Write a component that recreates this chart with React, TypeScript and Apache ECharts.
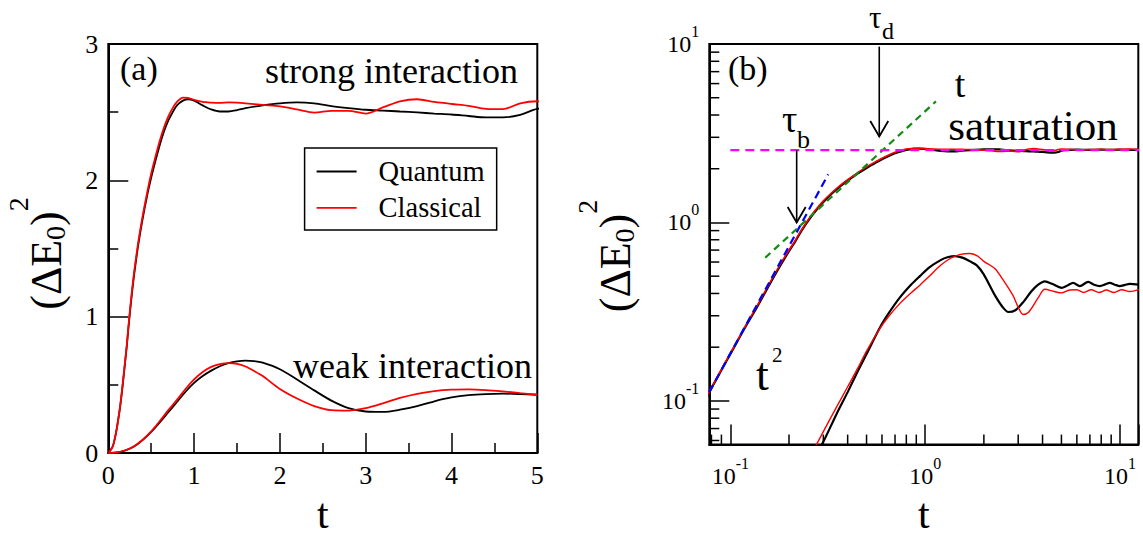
import React, { useEffect, useRef } from 'react';
import * as echarts from 'echarts';

const SERIF = 'Liberation Serif';

// ---------- strong interaction (used in (a) and (b)) ----------
const strongT = [0, 0.05, 0.078, 0.1, 0.12, 0.137, 0.16, 0.18, 0.2, 0.215,
  0.232, 0.26, 0.29, 0.312, 0.35, 0.395, 0.45, 0.5, 0.54, 0.6,
  0.65, 0.7, 0.75, 0.8, 0.87, 0.93, 1.0, 1.1, 1.2, 1.3,
  1.4, 1.5, 1.6, 1.8, 2.0, 2.2, 2.4, 2.6, 2.8, 3.0,
  3.2, 3.4, 3.6, 3.8, 4.0, 4.2, 4.4, 4.6, 4.8, 5.0,
  5.5, 6, 7, 8, 9, 10, 11, 12.5];
const strongQuantum = [0, 0.046, 0.112, 0.183, 0.262, 0.335, 0.455, 0.57, 0.69, 0.78,
  0.9, 1.08, 1.25, 1.36, 1.53, 1.7, 1.88, 2.02, 2.12, 2.26,
  2.36, 2.44, 2.5, 2.55, 2.585, 2.595, 2.585, 2.55, 2.52, 2.505,
  2.505, 2.515, 2.53, 2.55, 2.565, 2.572, 2.565, 2.545, 2.53, 2.518,
  2.512, 2.505, 2.498, 2.49, 2.483, 2.472, 2.462, 2.462, 2.48, 2.525,
  2.55, 2.56, 2.55, 2.56, 2.55, 2.56, 2.55, 2.56];
const strongClassical = [0, 0.047, 0.113, 0.185, 0.265, 0.34, 0.462, 0.58, 0.7, 0.79,
  0.91, 1.095, 1.27, 1.38, 1.55, 1.72, 1.9, 2.05, 2.15, 2.29,
  2.39, 2.47, 2.53, 2.575, 2.607, 2.605, 2.59, 2.575, 2.57, 2.568,
  2.572, 2.57, 2.565, 2.553, 2.543, 2.52, 2.497, 2.51, 2.51, 2.49,
  2.535, 2.58, 2.595, 2.575, 2.56, 2.547, 2.525, 2.522, 2.565, 2.58,
  2.57, 2.55, 2.56, 2.57, 2.56, 2.57, 2.58, 2.57];

// ---------- weak interaction, panel (a) ----------
const weakT = [0, 0.1, 0.2, 0.3, 0.4, 0.5, 0.6, 0.7, 0.8, 0.9, 1.0, 1.1, 1.2, 1.3, 1.4, 1.5, 1.6, 1.7, 1.8,
  2.0, 2.2, 2.4, 2.6, 2.8, 3.0, 3.2, 3.4, 3.6, 3.8, 4.0, 4.2, 4.4, 4.6, 4.8, 5.0];
const weakQuantum = [0, 0.005, 0.02, 0.048, 0.095, 0.155, 0.225, 0.3, 0.375, 0.45,
  0.515, 0.565, 0.605, 0.637, 0.66, 0.673, 0.678, 0.675, 0.663, 0.615,
  0.54, 0.46, 0.385, 0.33, 0.305, 0.302, 0.318, 0.345, 0.38, 0.408,
  0.425, 0.433, 0.436, 0.433, 0.428];
const weakClassical = [0, 0.005, 0.021, 0.05, 0.098, 0.16, 0.235, 0.315, 0.39, 0.47,
  0.54, 0.595, 0.632, 0.652, 0.66, 0.655, 0.635, 0.602, 0.565, 0.47,
  0.4, 0.345, 0.315, 0.312, 0.33, 0.365, 0.405, 0.435, 0.455, 0.465,
  0.467, 0.462, 0.452, 0.44, 0.428];

// ---------- weak interaction, panel (b) ----------
const bWeakQuantumT = [0.25, 0.3, 0.35, 0.4, 0.45, 0.5, 0.586, 0.65, 0.742, 0.85,
  0.939, 1.05, 1.2, 1.3, 1.43, 1.55, 1.7, 1.84, 2.0, 2.28,
  2.5, 2.67, 2.9, 3.2, 3.5, 3.8, 4.11, 4.5, 5.0, 5.4,
  5.74, 6.21, 6.86, 7.35, 7.87, 8.4, 8.85, 9.4, 9.96, 10.6, 11.2, 12.5];
const bWeakQuantum = [0.041, 0.059, 0.084, 0.112, 0.146, 0.183, 0.258, 0.31, 0.38, 0.45,
  0.5, 0.56, 0.615, 0.638, 0.648, 0.635, 0.605, 0.575, 0.51, 0.39,
  0.335, 0.315, 0.322, 0.36, 0.41, 0.448, 0.468, 0.452, 0.43, 0.445,
  0.458, 0.44, 0.464, 0.448, 0.44, 0.45, 0.458, 0.448, 0.44, 0.447, 0.453, 0.448];
const bWeakClassicalT = [0.25, 0.281, 0.35, 0.4, 0.45, 0.5, 0.586, 0.65, 0.742, 0.85,
  0.939, 1.05, 1.2, 1.35, 1.5, 1.69, 1.85, 2.0, 2.28, 2.5,
  2.82, 3.0, 3.18, 3.4, 3.81, 4.11, 4.6, 5.0, 5.5, 6.0,
  6.5, 7.1, 7.8, 8.5, 9.3, 10.2, 11.2, 12.5];
const bWeakClassical = [0.046, 0.0588, 0.092, 0.12, 0.152, 0.19, 0.255, 0.298, 0.352, 0.405,
  0.445, 0.5, 0.575, 0.63, 0.66, 0.67, 0.65, 0.605, 0.55, 0.48,
  0.39, 0.335, 0.305, 0.315, 0.38, 0.422, 0.41, 0.403, 0.418, 0.42,
  0.405, 0.42, 0.405, 0.418, 0.405, 0.42, 0.41, 0.42];

// ---------- guide lines in (b) ----------
const t2FitT = [0.078, 0.318];
const t2FitV = [0.112, 1.86];
const tFitT = [0.151, 1.135];
const tFitV = [0.634, 4.77];
const satT = [0.1, 12.5];
const satV = [2.54, 2.54];

// ---------- arrows in (b): tau_b, tau_d ----------
const arrowT = [0.219, 0.581];
const arrowFrom = [2.54, 9.67];
const arrowTo = [1.0, 3.03];

// ---------- log-axis minor ticks in (b) ----------
const bMinorX = [0.08, 0.09, 0.2, 0.3, 0.4, 0.5, 0.6, 0.7, 0.8, 0.9, 2, 3, 4, 5, 6, 7, 8, 9];
const bMinorY = [0.06, 0.07, 0.08, 0.09, 0.2, 0.3, 0.4, 0.5, 0.6, 0.7, 0.8, 0.9, 2, 3, 4, 5, 6, 7, 8, 9];

const zip = (t: number[], v: number[]) => t.map((x, i) => [x, v[i]]);
const positive = (d: number[][]) => d.filter(([x, y]) => x > 0 && y > 0);

const curve = (name: string, data: number[][], color: string, width: number, idx: number) => ({
  type: 'line', name, data, xAxisIndex: idx, yAxisIndex: idx,
  showSymbol: false, symbol: 'none', smooth: 0.3, clip: true, silent: true, z: 3,
  lineStyle: { color, width }, itemStyle: { color },
});

const dashed = (name: string, data: number[][], color: string, dash: number[]) => ({
  type: 'line', name, data, xAxisIndex: 1, yAxisIndex: 1,
  showSymbol: false, symbol: 'none', clip: true, silent: true, z: 4,
  lineStyle: { color, width: 2.2, type: dash }, itemStyle: { color },
});

const txt = (text: string, x: number, y: number, size: number, align = 'left') => ({
  type: 'text', x, y, silent: true, z: 10,
  style: {
    text, fontSize: size, fontFamily: SERIF, fill: '#000',
    textAlign: align, textVerticalAlign: 'middle',
  },
});

const yTitle = (x: number, y: number) => ({
  type: 'text', x, y, rotation: Math.PI / 2, silent: true, z: 10,
  style: {
    text: '(ΔE{sub|0}){sup|2}', fontSize: 44, fontFamily: SERIF, fill: '#000',
    textAlign: 'center', textVerticalAlign: 'middle',
    rich: {
      sub: { fontSize: 28, fontFamily: SERIF, fill: '#000', padding: [19, 0, 0, 0] },
      sup: { fontSize: 28, fontFamily: SERIF, fill: '#000', padding: [0, 0, 55, 0] },
    },
  },
});

const tickLine = { color: '#000', width: 1.5 };
const axisLineStyle = { show: true, onZero: false, lineStyle: { color: '#000', width: 2 } };

const logFormatter = (v: number) => {
  const e = Math.log10(v);
  const r = Math.round(e);
  return Math.abs(e - r) < 1e-6 ? `10{sup|${r}}` : '';
};

const linLabel = { fontFamily: SERIF, fontSize: 26, color: '#000' };
const logLabel = (margin: number) => ({
  fontFamily: SERIF, fontSize: 24, color: '#000', margin, formatter: logFormatter,
  rich: { sup: { fontFamily: SERIF, fontSize: 16, color: '#000', padding: [0, 0, 25, 0] } },
});

const option = {
  animation: false,
  textStyle: { fontFamily: SERIF },
  grid: [
    { left: 108.3, top: 44, width: 429, height: 414.3, show: true, borderColor: '#000', borderWidth: 2 },
    { left: 709.3, top: 44, width: 429, height: 415.3, show: true, borderColor: '#000', borderWidth: 2 },
  ],
  legend: {
    data: [
      { name: 'Quantum', icon: 'rect' },
      { name: 'Classical', icon: 'rect' },
    ],
    orient: 'vertical', left: 304.6, top: 148,
    padding: [9, 12, 7.6, 12],
    itemWidth: 40, itemHeight: 1.8, itemGap: 7.4,
    borderColor: '#000', borderWidth: 1.5, backgroundColor: '#fff',
    selectedMode: false,
    textStyle: { fontFamily: SERIF, fontSize: 28.5, color: '#000', lineHeight: 26, padding: [0, 0, 0, 17] },
  },
  xAxis: [
    {
      gridIndex: 0, type: 'value', min: 0, max: 5, interval: 1,
      axisLine: axisLineStyle,
      axisTick: { show: true, inside: true, length: 20, lineStyle: tickLine },
      minorTick: { show: true, splitNumber: 2, length: 10, lineStyle: tickLine },
      splitLine: { show: false }, minorSplitLine: { show: false },
      axisLabel: { ...linLabel, margin: 9 },
      name: 't', nameLocation: 'middle', nameGap: 32,
      nameTextStyle: { fontFamily: SERIF, fontSize: 42, color: '#000' },
    },
    {
      gridIndex: 1, type: 'log', logBase: 10, min: 0.078, max: 12.4,
      axisLine: axisLineStyle,
      axisTick: { show: true, inside: true, length: 20, lineStyle: tickLine },
      minorTick: { show: false },
      splitLine: { show: false }, minorSplitLine: { show: false },
      axisLabel: logLabel(11),
      name: 't', nameLocation: 'middle', nameGap: 40,
      nameTextStyle: { fontFamily: SERIF, fontSize: 42, color: '#000' },
    },
  ],
  yAxis: [
    {
      gridIndex: 0, type: 'value', min: 0, max: 3, interval: 1,
      axisLine: axisLineStyle,
      axisTick: { show: true, inside: true, length: 20, lineStyle: tickLine },
      minorTick: { show: true, splitNumber: 2, length: 10, lineStyle: tickLine },
      splitLine: { show: false }, minorSplitLine: { show: false },
      axisLabel: { ...linLabel, margin: 10 },
    },
    {
      gridIndex: 1, type: 'log', logBase: 10, min: 0.0569, max: 10,
      axisLine: axisLineStyle,
      axisTick: { show: true, inside: true, length: 20, lineStyle: tickLine },
      minorTick: { show: false },
      splitLine: { show: false }, minorSplitLine: { show: false },
      axisLabel: logLabel(10),
    },
  ],
  series: [
    // panel (a)
    curve('Quantum', zip(strongT, strongQuantum), '#000000', 1.8, 0),
    curve('Classical', zip(strongT, strongClassical), '#ff0000', 1.8, 0),
    curve('Quantum', zip(weakT, weakQuantum), '#000000', 1.8, 0),
    curve('Classical', zip(weakT, weakClassical), '#ff0000', 1.8, 0),
    // panel (b)
    curve('Quantum', positive(zip(strongT, strongQuantum)), '#000000', 2.2, 1),
    curve('Classical', positive(zip(strongT, strongClassical)), '#ff0000', 1.6, 1),
    curve('Quantum', zip(bWeakQuantumT, bWeakQuantum), '#000000', 2.2, 1),
    curve('Classical', zip(bWeakClassicalT, bWeakClassical), '#ff0000', 1.4, 1),
    dashed('t² fit', zip(t2FitT, t2FitV), '#0000ff', [8, 5]),
    dashed('t fit', zip(tFitT, tFitV), '#118c11', [7, 5]),
    dashed('saturation', zip(satT, satV), '#ff00ff', [9, 6]),
    {
      type: 'custom', name: 'arrows', xAxisIndex: 1, yAxisIndex: 1, silent: true, z: 5,
      data: arrowT.map((t, i) => [t, arrowFrom[i], arrowTo[i]]),
      encode: { x: 0, y: [1, 2] },
      renderItem: (params: any, api: any) => {
        const t = api.value(0);
        const a = api.coord([t, api.value(1)]);
        const b = api.coord([t, api.value(2)]);
        return {
          type: 'group',
          children: [
            { type: 'line', shape: { x1: a[0], y1: a[1], x2: b[0], y2: b[1] }, style: { stroke: '#000', lineWidth: 1.6 } },
            {
              type: 'polyline',
              shape: { points: [[b[0] - 9, b[1] - 15.5], [b[0], b[1]], [b[0] + 9, b[1] - 15.5]] },
              style: { stroke: '#000', lineWidth: 1.8, fill: 'none' },
            },
          ],
        };
      },
    },
    {
      type: 'custom', name: 'minor x ticks', xAxisIndex: 1, yAxisIndex: 1, silent: true, z: 6,
      data: bMinorX.map((v) => [v, 1]),
      renderItem: (params: any, api: any) => {
        const cs = params.coordSys;
        const p = api.coord([api.value(0), api.value(1)]);
        const yb = cs.y + cs.height;
        return { type: 'line', shape: { x1: p[0], y1: yb, x2: p[0], y2: yb - 10 }, style: { stroke: '#000', lineWidth: 1.5 } };
      },
    },
    {
      type: 'custom', name: 'minor y ticks', xAxisIndex: 1, yAxisIndex: 1, silent: true, z: 6,
      data: bMinorY.map((v) => [1, v]),
      renderItem: (params: any, api: any) => {
        const cs = params.coordSys;
        const p = api.coord([api.value(0), api.value(1)]);
        return { type: 'line', shape: { x1: cs.x, y1: p[1], x2: cs.x + 10, y2: p[1] }, style: { stroke: '#000', lineWidth: 1.5 } };
      },
    },
  ],
  graphic: [
    yTitle(46, 253.5),
    yTitle(615, 256),
    txt('(a)', 120, 68.5, 34),
    txt('strong interaction', 518, 71, 36, 'right'),
    txt('weak interaction', 532, 365.8, 36, 'right'),
    txt('(b)', 728, 68.7, 34),
    txt('τ', 869, 17.5, 31),
    txt('d', 882, 31, 24),
    txt('t', 960, 84, 38, 'center'),
    txt('saturation', 1033, 125.5, 43, 'center'),
    txt('τ', 782, 119.2, 38),
    txt('b', 797, 139.2, 26),
    txt('t', 756, 374, 46),
    txt('2', 772, 355, 21),
  ],
};

export default function App() {
  const ref = useRef<HTMLDivElement>(null);
  useEffect(() => {
    document.body.style.margin = '0';
    const chart = echarts.init(ref.current as HTMLDivElement, null, { renderer: 'svg' });
    chart.setOption(option as any);
    return () => chart.dispose();
  }, []);
  return <div ref={ref} style={{ width: 1143, height: 540 }} />;
}
